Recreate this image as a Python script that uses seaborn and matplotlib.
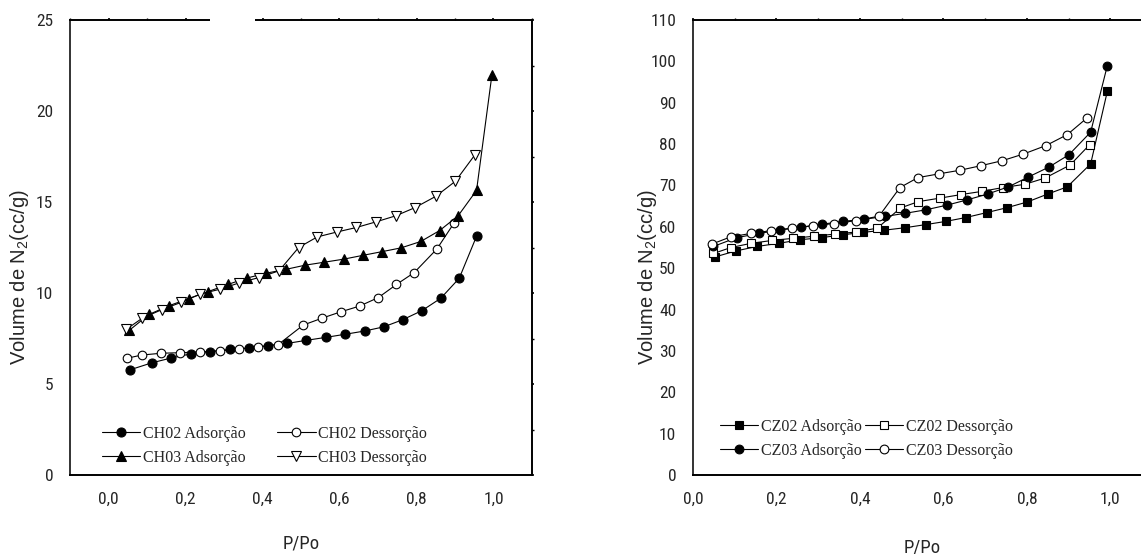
import numpy as np
import pandas as pd
import matplotlib
matplotlib.use("Agg")
import matplotlib.pyplot as plt
import matplotlib.transforms as mtransforms
import seaborn as sns
from matplotlib import font_manager
from matplotlib.patches import Rectangle
from matplotlib.ticker import MultipleLocator

# ---------------- data ----------------
ch02_ads_x = [0.056, 0.112, 0.163, 0.213, 0.264, 0.316, 0.366, 0.415, 0.464, 0.514,
              0.564, 0.614, 0.665, 0.715, 0.764, 0.814, 0.863, 0.911, 0.956]
ch02_ads_y = [5.78, 6.16, 6.43, 6.65, 6.78, 6.90, 6.98, 7.11, 7.23, 7.40,
              7.56, 7.73, 7.91, 8.14, 8.53, 9.03, 9.71, 10.81, 13.12]

ch02_des_x = [0.047, 0.086, 0.137, 0.186, 0.237, 0.289, 0.339, 0.389, 0.441, 0.506,
              0.555, 0.604, 0.652, 0.701, 0.748, 0.794, 0.853, 0.898]
ch02_des_y = [6.41, 6.59, 6.69, 6.72, 6.76, 6.82, 6.92, 7.03, 7.17, 8.24,
              8.62, 8.97, 9.28, 9.75, 10.47, 11.12, 12.42, 13.86]

ch03_ads_x = [0.054, 0.105, 0.157, 0.208, 0.259, 0.310, 0.361, 0.410, 0.461, 0.511,
              0.560, 0.611, 0.661, 0.710, 0.760, 0.811, 0.860, 0.908, 0.956, 0.996]
ch03_ads_y = [7.95, 8.82, 9.30, 9.69, 10.08, 10.47, 10.83, 11.09, 11.30, 11.53,
              11.69, 11.86, 12.07, 12.27, 12.48, 12.83, 13.43, 14.24, 15.64, 22.0]

ch03_des_x = [0.046, 0.088, 0.139, 0.188, 0.238, 0.290, 0.340, 0.391, 0.443, 0.494,
              0.542, 0.593, 0.644, 0.695, 0.746, 0.796, 0.850, 0.901, 0.952]
ch03_des_y = [8.00, 8.62, 9.09, 9.48, 9.94, 10.21, 10.56, 10.85, 11.22, 12.50,
              13.08, 13.35, 13.60, 13.91, 14.24, 14.69, 15.31, 16.14, 17.60]

cz02_ads_x = [0.052, 0.102, 0.154, 0.206, 0.257, 0.308, 0.359, 0.408, 0.458, 0.508,
              0.558, 0.606, 0.654, 0.704, 0.753, 0.801, 0.851, 0.897, 0.953, 0.993]
cz02_ads_y = [52.7, 54.15, 55.26, 56.02, 56.88, 57.39, 58.07, 58.67, 59.18, 59.78,
              60.54, 61.31, 62.25, 63.44, 64.64, 66.00, 67.96, 69.67, 75.21, 92.78]

cz02_des_x = [0.049, 0.091, 0.140, 0.190, 0.240, 0.290, 0.340, 0.391, 0.442, 0.497,
              0.540, 0.592, 0.642, 0.692, 0.743, 0.795, 0.844, 0.904, 0.951]
cz02_des_y = [53.55, 55.0, 56.02, 56.71, 57.22, 57.73, 58.24, 58.75, 59.69, 64.55,
              66.09, 66.94, 67.79, 68.56, 69.50, 70.27, 71.80, 74.96, 79.90]

cz03_ads_x = [0.049, 0.105, 0.159, 0.209, 0.259, 0.309, 0.359, 0.409, 0.460, 0.509,
              0.559, 0.608, 0.657, 0.707, 0.756, 0.804, 0.853, 0.901, 0.953, 0.993]
cz03_ads_y = [55.26, 57.39, 58.41, 59.26, 59.86, 60.63, 61.31, 61.82, 62.51, 63.27,
              64.13, 65.23, 66.51, 67.96, 69.67, 72.06, 74.44, 77.43, 82.89, 99.0]

cz03_des_x = [0.046, 0.090, 0.139, 0.188, 0.238, 0.288, 0.339, 0.390, 0.446, 0.496,
              0.539, 0.590, 0.640, 0.690, 0.741, 0.792, 0.846, 0.897, 0.944]
cz03_des_y = [55.85, 57.56, 58.41, 59.09, 59.69, 60.29, 60.80, 61.48, 62.59, 69.50,
              71.89, 72.82, 73.68, 74.78, 75.98, 77.60, 79.65, 82.29, 86.30]

left_labels = ["CH02 Adsorção", "CH02 Dessorção", "CH03 Adsorção", "CH03 Dessorção"]
right_labels = ["CZ02 Adsorção", "CZ02 Dessorção", "CZ03 Adsorção", "CZ03 Dessorção"]

x_ticks = [0.0, 0.2, 0.4, 0.6, 0.8, 1.0]
x_tick_labels = ["0,0", "0,2", "0,4", "0,6", "0,8", "1,0"]
left_y_ticks = [0, 5, 10, 15, 20, 25]
right_y_ticks = [0, 10, 20, 30, 40, 50, 60, 70, 80, 90, 100, 110]

x_label = "P/Po"
y_label = r"Volume de N$_2$(cc/g)"

# ---------------- fonts ----------------
names = {f.name for f in font_manager.fontManager.ttflist}
narrow = "Liberation Sans"
for cand in ("Liberation Sans Narrow", "Roboto Condensed", "Open Sans Condensed"):
    if cand in names:
        narrow = cand
        break
serif = "Liberation Serif"
tick_size = 11.5 if narrow == "Liberation Sans" else 12.5

sns.set_theme(style="white")
plt.rcParams["font.family"] = ["Liberation Sans", "DejaVu Sans"]
plt.rcParams["mathtext.fontset"] = "custom"
plt.rcParams["mathtext.rm"] = "Liberation Sans"
plt.rcParams["mathtext.it"] = "Liberation Sans"

W, H = 1141, 554
fig = plt.figure(figsize=(W / 100, H / 100), dpi=100)
fig.patch.set_facecolor("white")

def px_axes(l, r, t, b):
    return fig.add_axes([l / W, (H - b) / H, (r - l) / W, (b - t) / H])

axL = px_axes(70, 532, 20, 475)
axR = px_axes(693, 1152, 20, 475)

def draw_series(ax, xs, ys, label, marker, filled, ms):
    df = pd.DataFrame({"x": xs, "y": ys})
    sns.lineplot(data=df, x="x", y="y", ax=ax, sort=False, estimator=None,
                 color="black", lw=0.8, marker=marker, markersize=ms,
                 markerfacecolor="black" if filled else "white",
                 markeredgecolor="black", markeredgewidth=0.8, label=label,
                 legend=False)

draw_series(axL, ch02_ads_x, ch02_ads_y, left_labels[0], "o", True, 6.5)
draw_series(axL, ch02_des_x, ch02_des_y, left_labels[1], "o", False, 6.2)
draw_series(axL, ch03_ads_x, ch03_ads_y, left_labels[2], "^", True, 7)
draw_series(axL, ch03_des_x, ch03_des_y, left_labels[3], "v", False, 7)

draw_series(axR, cz02_ads_x, cz02_ads_y, right_labels[0], "s", True, 5.2)
draw_series(axR, cz02_des_x, cz02_des_y, right_labels[1], "s", False, 5.2)
draw_series(axR, cz03_ads_x, cz03_ads_y, right_labels[2], "o", True, 6.3)
draw_series(axR, cz03_des_x, cz03_des_y, right_labels[3], "o", False, 6.3)

def style_axes(ax, xlim, ylim, yticks, yminor):
    ax.set_xlim(*xlim)
    ax.set_ylim(*ylim)
    ax.set_xticks(x_ticks)
    ax.set_xticklabels(x_tick_labels)
    ax.xaxis.set_minor_locator(MultipleLocator(0.1))
    ax.set_yticks(yticks)
    ax.set_yticklabels([str(v) for v in yticks])
    ax.yaxis.set_minor_locator(MultipleLocator(yminor))
    for s in ax.spines.values():
        s.set_visible(True)
        s.set_color("black")
        s.set_linewidth(1.4)
    ax.spines["left"].set_color("#333333")
    ax.tick_params(axis="both", which="major", direction="out", length=7,
                   width=1.2, color="black", labelsize=tick_size, pad=5,
                   top=True, right=True)
    ax.tick_params(axis="both", which="minor", direction="out", length=4,
                   width=1.0, color="black", top=True, right=True)
    # ticks on top / right are only tiny marks
    for t in ax.xaxis.get_major_ticks() + ax.xaxis.get_minor_ticks():
        t.tick2line.set_markersize(1.5)
    for t in ax.yaxis.get_major_ticks() + ax.yaxis.get_minor_ticks():
        t.tick2line.set_markersize(1.5)
    for lab in ax.get_xticklabels() + ax.get_yticklabels():
        lab.set_fontfamily(narrow)
        lab.set_fontsize(tick_size)
    ax.grid(False)
    ax.set_facecolor("white")

style_axes(axL, (-0.1, 1.1), (0, 25), left_y_ticks, 2.5)
style_axes(axR, (0.0, 1.1), (0, 110), right_y_ticks, 5)

for ax, ylx, xly in ((axL, 31, 534), (axR, 659, 538)):
    ax.set_ylabel(y_label, fontsize=14.5, family="Liberation Sans")
    ax.yaxis.set_label_coords(ylx / W, 0.5, transform=fig.transFigure)
    ax.set_xlabel(x_label, fontsize=13.5, family=narrow)
    ax.xaxis.set_label_coords(
        0.5, (H - xly) / H,
        transform=mtransforms.blended_transform_factory(ax.transAxes, fig.transFigure))

# gap in the top frame line of the left panel (as in the reference)
axL.add_patch(Rectangle(((210 - 70) / 462, 0.99), (255 - 210) / 462, 0.03,
                        transform=axL.transAxes, clip_on=False,
                        facecolor="white", edgecolor="none", zorder=10))

def make_legend(ax, order, anchor, colsp):
    handles, labels = ax.get_legend_handles_labels()
    lut = dict(zip(labels, handles))
    leg = ax.legend([lut[l] for l in order], order, ncol=2, frameon=False,
                    loc="lower left", bbox_to_anchor=anchor,
                    borderaxespad=0, borderpad=0, handlelength=2.4,
                    handletextpad=0.15, columnspacing=colsp, labelspacing=0.5,
                    prop={"family": serif, "size": 11.5})
    return leg

make_legend(axL, [left_labels[0], left_labels[2], left_labels[1], left_labels[3]],
            (0.069, 0.02), 2.0)
make_legend(axR, [right_labels[0], right_labels[2], right_labels[1], right_labels[3]],
            (0.059, 0.035), 0.2)

fig.savefig("out.png", dpi=100, facecolor="white")
